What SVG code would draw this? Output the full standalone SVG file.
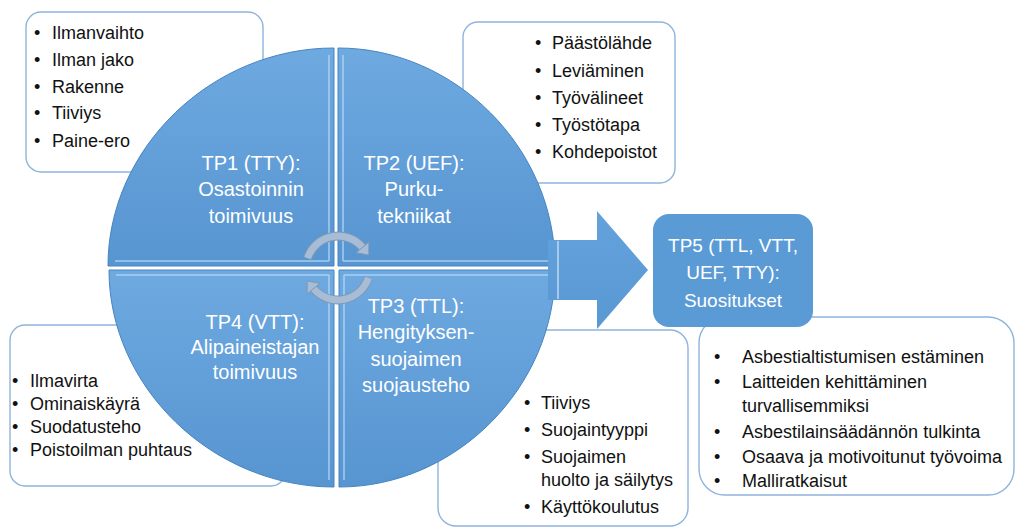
<svg xmlns="http://www.w3.org/2000/svg" width="1016" height="528" viewBox="0 0 1016 528">
<defs>
<linearGradient id="qg" x1="0" y1="0" x2="0" y2="1">
<stop offset="0" stop-color="#6ea9e0"/>
<stop offset="1" stop-color="#5795d1"/>
</linearGradient>
<linearGradient id="ag" x1="0" y1="0" x2="0" y2="1">
<stop offset="0" stop-color="#64a2dc"/>
<stop offset="1" stop-color="#5898d3"/>
</linearGradient>
<style>
.box{fill:#ffffff;stroke:#8fb3dd;stroke-width:1.4}
.bt{font-family:"Liberation Sans",Arial,sans-serif;font-size:18px;fill:#111111}
.qt{font-family:"Liberation Sans",Arial,sans-serif;font-size:20px;fill:#ffffff;text-anchor:middle}
.q{fill:url(#qg);stroke:#4584c2;stroke-width:1}
.hl{fill:none;stroke:#b9dbf7;stroke-width:1.5;opacity:0.8}
.cyc{fill:none;stroke:#a7bcd5;stroke-width:7}
.cyo{fill:none;stroke:#7f98b6;stroke-width:9}
.cyh{fill:#a7bcd5;stroke:#7f98b6;stroke-width:1}
</style>
</defs>

<g id="box-tp1">
<rect class="box" x="26" y="12" width="237" height="160" rx="15"/>
<text class="bt"><tspan x="34" y="39">•</tspan><tspan x="52" y="39">Ilmanvaihto</tspan></text>
<text class="bt"><tspan x="34" y="66">•</tspan><tspan x="52" y="66">Ilman jako</tspan></text>
<text class="bt"><tspan x="34" y="93">•</tspan><tspan x="52" y="93">Rakenne</tspan></text>
<text class="bt"><tspan x="34" y="119">•</tspan><tspan x="52" y="119">Tiiviys</tspan></text>
<text class="bt"><tspan x="34" y="147">•</tspan><tspan x="52" y="147">Paine-ero</tspan></text>
</g>

<g id="box-tp2">
<rect class="box" x="463" y="22" width="212" height="161" rx="15"/>
<text class="bt"><tspan x="535" y="49">•</tspan><tspan x="552" y="49">Päästölähde</tspan></text>
<text class="bt"><tspan x="535" y="77">•</tspan><tspan x="552" y="77">Leviäminen</tspan></text>
<text class="bt"><tspan x="535" y="104">•</tspan><tspan x="552" y="104">Työvälineet</tspan></text>
<text class="bt"><tspan x="535" y="131">•</tspan><tspan x="552" y="131">Työstötapa</tspan></text>
<text class="bt"><tspan x="535" y="158">•</tspan><tspan x="552" y="158">Kohdepoistot</tspan></text>
</g>

<g id="box-tp4">
<rect class="box" x="10" y="325" width="276" height="161" rx="15"/>
<text class="bt"><tspan x="12" y="387">•</tspan><tspan x="30" y="387">Ilmavirta</tspan></text>
<text class="bt"><tspan x="12" y="410">•</tspan><tspan x="30" y="410">Ominaiskäyrä</tspan></text>
<text class="bt"><tspan x="12" y="433">•</tspan><tspan x="30" y="433">Suodatusteho</tspan></text>
<text class="bt"><tspan x="12" y="456">•</tspan><tspan x="30" y="456">Poistoilman puhtaus</tspan></text>
</g>

<g id="box-tp3">
<rect class="box" x="438" y="330" width="250" height="196" rx="18"/>
<text class="bt"><tspan x="524" y="409">•</tspan><tspan x="541" y="409">Tiiviys</tspan></text>
<text class="bt"><tspan x="524" y="436">•</tspan><tspan x="541" y="436">Suojaintyyppi</tspan></text>
<text class="bt"><tspan x="524" y="463">•</tspan><tspan x="541" y="463">Suojaimen</tspan></text>
<text class="bt"><tspan x="541" y="486">huolto ja säilytys</tspan></text>
<text class="bt"><tspan x="524" y="513">•</tspan><tspan x="541" y="513">Käyttökoulutus</tspan></text>
</g>

<g id="box-tp5">
<rect class="box" x="699" y="317" width="315" height="178" rx="26"/>
<text class="bt"><tspan x="714" y="363">•</tspan><tspan x="742" y="363">Asbestialtistumisen estäminen</tspan></text>
<text class="bt"><tspan x="714" y="388">•</tspan><tspan x="742" y="388">Laitteiden kehittäminen</tspan></text>
<text class="bt"><tspan x="742" y="412">turvallisemmiksi</tspan></text>
<text class="bt"><tspan x="714" y="438">•</tspan><tspan x="742" y="438">Asbestilainsäädännön tulkinta</tspan></text>
<text class="bt"><tspan x="714" y="463">•</tspan><tspan x="742" y="463">Osaava ja motivoitunut työvoima</tspan></text>
<text class="bt"><tspan x="714" y="487">•</tspan><tspan x="742" y="487">Malliratkaisut</tspan></text>
</g>

<g id="tp1">
<path class="q" d="M334 266 L108 266 C108 148 212 48 334 48 Z"/>
<path class="hl" d="M329 261 L115 261 M329 261 L329 55"/>
<text class="qt"><tspan x="251" y="170">TP1 (TTY):</tspan><tspan x="251" y="196">Osastoinnin</tspan><tspan x="251" y="223">toimivuus</tspan></text>
</g>

<g id="tp2">
<path class="q" d="M338 266 L338 48 C455 48 555 148 555 266 Z"/>
<path class="hl" d="M343 261 L343 55 M343 261 L548 261"/>
<text class="qt"><tspan x="414" y="170">TP2 (UEF):</tspan><tspan x="414" y="196">Purku-</tspan><tspan x="414" y="223">tekniikat</tspan></text>
</g>

<g id="tp3">
<path class="q" d="M339 270 L555 270 C555 387 456 487 339 487 Z"/>
<path class="hl" d="M344 275 L548 275 M344 275 L344 480"/>
<text class="qt"><tspan x="416" y="313">TP3 (TTL):</tspan><tspan x="416" y="339">Hengityksen-</tspan><tspan x="416" y="366">suojaimen</tspan><tspan x="416" y="392">suojausteho</tspan></text>
</g>

<g id="tp4">
<path class="q" d="M334 270 L334 487 C212.5 487 109 387 109 270 Z"/>
<path class="hl" d="M329 275 L116 275 M329 275 L329 480"/>
<text class="qt"><tspan x="255" y="329">TP4 (VTT):</tspan><tspan x="255" y="354">Alipaineistajan</tspan><tspan x="255" y="379">toimivuus</tspan></text>
</g>

<g id="tp5">
<rect x="653" y="214" width="160" height="113" rx="16" fill="#5b9bd5"/>
<text class="qt" style="font-size:19px"><tspan x="733" y="252">TP5 (TTL, VTT,</tspan><tspan x="733" y="279">UEF, TTY):</tspan><tspan x="733" y="307">Suositukset</tspan></text>
</g>

<g id="connectors">
<path d="M548 240 L597 240 L597 211 L648 270 L597 329 L597 300 L548 300 Z" fill="url(#ag)"/>
<path d="M558 241 L558 299" stroke="#d6e8f8" stroke-width="2" opacity="0.6"/>
<path class="cyo" d="M307.6 258.1 A32 32 0 0 1 362.5 247.4"/>
<path class="cyc" d="M307.6 258.1 A32 32 0 0 1 362.5 247.4"/>
<polygon class="cyh" points="368.9,242.1 356.1,252.7 368.8,255.1"/>
<path class="cyo" d="M368.4 277.9 A32 32 0 0 1 313.5 288.6"/>
<path class="cyc" d="M368.4 277.9 A32 32 0 0 1 313.5 288.6"/>
<polygon class="cyh" points="307.1,293.9 319.9,283.3 307.2,280.9"/>
</g>
</svg>
